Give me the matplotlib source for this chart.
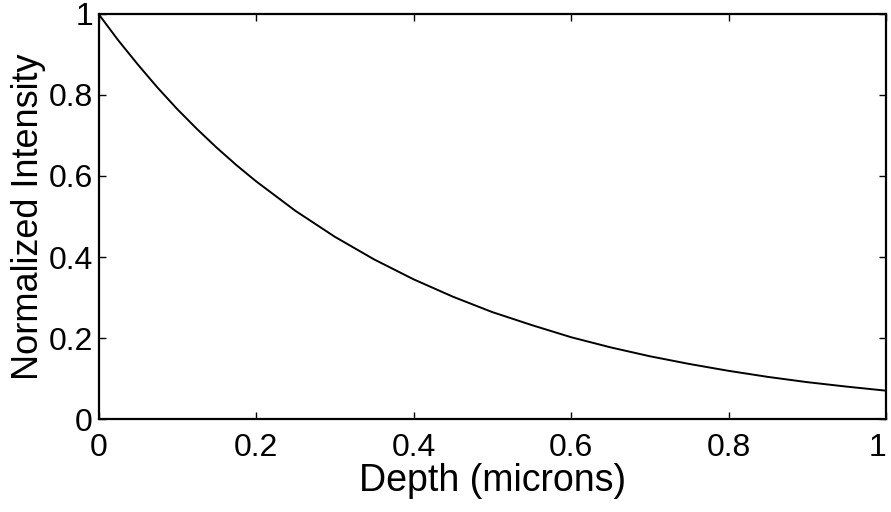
import matplotlib
matplotlib.use("Agg")
import matplotlib.pyplot as plt

# Data
depth = [0.0, 0.025, 0.05, 0.075, 0.1, 0.125, 0.15, 0.175, 0.2, 0.25, 0.3, 0.35, 0.4, 0.45, 0.5,
         0.55, 0.6, 0.65, 0.7, 0.75, 0.8, 0.85, 0.9, 0.95, 1.0]
intensity = [1.0, 0.935, 0.875, 0.818, 0.765, 0.716, 0.67, 0.627, 0.587, 0.514, 0.45, 0.394,
             0.345, 0.302, 0.264, 0.232, 0.202, 0.177, 0.155, 0.136, 0.119, 0.104, 0.091,
             0.08, 0.07]
xticks = [0, 0.2, 0.4, 0.6, 0.8, 1]
xticklabels = ["0", "0.2", "0.4", "0.6", "0.8", "1"]
yticks = [0, 0.2, 0.4, 0.6, 0.8, 1]
yticklabels = ["0", "0.2", "0.4", "0.6", "0.8", "1"]

plt.rcParams['font.family'] = ['Liberation Sans', 'DejaVu Sans']

fig = plt.figure(figsize=(8.91, 5.12), dpi=100)
ax = fig.add_axes([0.1106, 0.1816, 0.8838, 0.7911])

ax.plot(depth, intensity, color='black', linewidth=1.4, solid_joinstyle='round')
ax.set_xlim(0, 1)
ax.set_ylim(0, 1)
ax.set_xticks(xticks)
ax.set_xticklabels(xticklabels)
ax.set_yticks(yticks)
ax.set_yticklabels(yticklabels)
ax.tick_params(direction='in', length=5, width=1, top=True, right=True,
               labelsize=23, pad=4)
ax.tick_params(axis='x', pad=10)
ax.get_xticklabels()[-1].set_horizontalalignment('right')
for s in ax.spines.values():
    s.set_linewidth(1.6)
ax.set_xlabel("Depth (microns)", fontsize=27, labelpad=0)
ax.set_ylabel("Normalized Intensity", fontsize=26, labelpad=2)

fig.savefig("out.png", dpi=100)
